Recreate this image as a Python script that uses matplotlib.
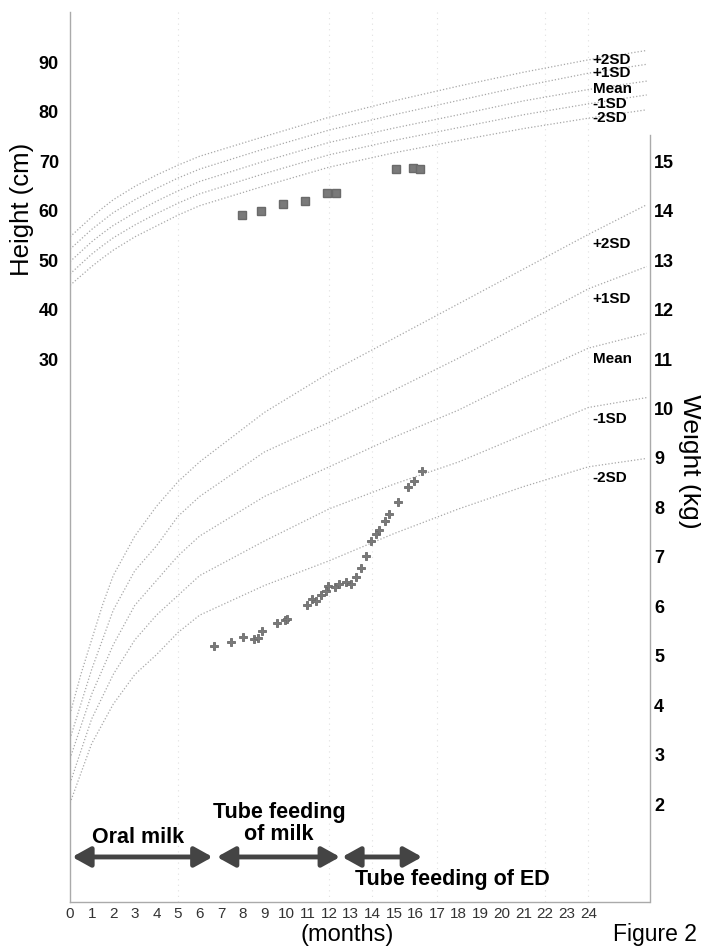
import numpy as np
import matplotlib
matplotlib.use("Agg")
import matplotlib.pyplot as plt

plt.rcParams["font.family"] = ["Liberation Sans", "DejaVu Sans"]

# reference curves (months)
ref_months = [0, 0.5, 1, 1.5, 2, 3, 4, 5, 6, 9, 12, 15, 18, 21, 24, 26.7]
sd_labels = ["+2SD", "+1SD", "Mean", "-1SD", "-2SD"]

height_p2 = [54.5, 56.5, 58.5, 60.3, 62.0, 64.7, 67.0, 69.0, 70.8, 74.8, 78.7, 82.0, 85.0, 87.8, 90.3, 92.2]
height_p1 = [52.0, 54.0, 56.0, 57.7, 59.4, 62.0, 64.3, 66.4, 68.2, 72.3, 76.1, 79.2, 82.1, 85.0, 87.6, 89.4]
height_mean = [49.5, 51.5, 53.5, 55.2, 56.8, 59.4, 61.7, 63.8, 65.7, 69.8, 73.6, 76.5, 79.2, 82.0, 84.3, 86.0]
height_m1 = [47.0, 49.0, 51.0, 52.7, 54.3, 56.9, 59.2, 61.3, 63.2, 67.3, 71.1, 74.0, 76.6, 79.2, 81.4, 83.2]
height_m2 = [44.7, 46.6, 48.5, 50.2, 51.8, 54.5, 56.7, 58.9, 60.8, 64.8, 68.6, 71.5, 74.0, 76.4, 78.5, 80.2]

weight_p2 = [3.8, 4.6, 5.3, 6.0, 6.6, 7.4, 8.0, 8.5, 8.9, 9.9, 10.7, 11.4, 12.1, 12.8, 13.5, 14.1]
weight_p1 = [3.3, 4.0, 4.7, 5.3, 5.9, 6.7, 7.2, 7.8, 8.2, 9.1, 9.7, 10.35, 11.0, 11.7, 12.4, 12.85]
weight_mean = [2.9, 3.55, 4.2, 4.7, 5.2, 6.0, 6.5, 7.0, 7.4, 8.2, 8.8, 9.4, 9.95, 10.6, 11.2, 11.5]
weight_m1 = [2.4, 3.05, 3.7, 4.15, 4.6, 5.3, 5.8, 6.2, 6.6, 7.3, 7.95, 8.45, 8.9, 9.45, 10.0, 10.2]
weight_m2 = [2.0, 2.6, 3.2, 3.6, 4.0, 4.6, 5.0, 5.45, 5.8, 6.4, 6.9, 7.45, 7.95, 8.4, 8.8, 8.97]

# patient measurements
h_months = [7.96, 8.82, 9.88, 10.9, 11.9, 12.3, 15.07, 15.87, 16.2]
h_values = [59.0, 59.8, 61.2, 61.7, 63.4, 63.4, 68.3, 68.5, 68.3]

w_months = [6.68, 7.45, 8.0, 8.5, 8.68, 8.88, 9.57, 9.95, 10.06, 10.98, 11.18,
            11.37, 11.6, 11.84, 11.95, 12.29, 12.46, 12.76, 13.03, 13.23, 13.49,
            13.7, 13.95, 14.15, 14.29, 14.58, 14.78, 15.18, 15.64, 15.94, 16.31]
w_values = [5.17, 5.26, 5.35, 5.32, 5.34, 5.47, 5.65, 5.71, 5.73, 6.01, 6.13,
            6.08, 6.21, 6.29, 6.39, 6.37, 6.42, 6.48, 6.43, 6.58, 6.76,
            7.0, 7.29, 7.44, 7.53, 7.71, 7.85, 8.09, 8.40, 8.51, 8.72]

# feeding periods
phase_start = [0.1, 6.8, 12.6]
phase_end = [6.6, 12.5, 16.3]

grid_months = [5, 12, 14, 17, 22, 24]

height_curves = [height_p2, height_p1, height_mean, height_m1, height_m2]
weight_curves = [weight_p2, weight_p1, weight_mean, weight_m1, weight_m2]

fig = plt.figure(figsize=(7.01, 9.53), dpi=100)
ax = fig.add_axes([0.0999, 0.0525, 0.8273, 0.934])
ax_w = ax.twinx()

curve_style = dict(color="#a8a8a8", lw=0.9, ls=(0, (1, 1.6)))
for m in grid_months:
    ax.axvline(m, color="#e0e0e0", lw=0.8, ls=(0, (1, 4)), zorder=0)

for curve, lab in zip(height_curves, sd_labels):
    ax.plot(ref_months, curve, **curve_style)
    ax.text(24.2, np.interp(24.2, ref_months, curve) + 0.1, lab,
            fontsize=11, fontweight="bold", ha="left", va="center")

for curve, lab in zip(weight_curves, sd_labels):
    ax_w.plot(ref_months, curve, **curve_style)
    ax_w.text(24.2, np.interp(24.2, ref_months, curve) - 0.22, lab,
              fontsize=11, fontweight="bold", ha="left", va="center")

ax.plot(h_months, h_values, "s", color="#7a7a7a", ms=6.2, mec="#6a6a6a")
ax_w.plot(w_months, w_values, "P", color="#7a7a7a", ms=6, mec="#6a6a6a", mew=0.6)

# feeding arrows
for s, e in zip(phase_start, phase_end):
    ax_w.annotate("", xy=(s, 0.91), xytext=(e, 0.91),
                  arrowprops=dict(arrowstyle="<|-|>,head_length=0.9,head_width=0.5",
                                  lw=3.5, color="#444444", shrinkA=0, shrinkB=0,
                                  mutation_scale=12))
ax_w.text(3.15, 1.32, "Oral milk", fontsize=15.5, fontweight="bold", ha="center", va="center")
ax_w.text(9.68, 1.61, "Tube feeding\nof milk", fontsize=15.5, fontweight="bold",
          ha="center", va="center", linespacing=1.1)
ax_w.text(17.7, 0.47, "Tube feeding of ED", fontsize=15.5, fontweight="bold",
          ha="center", va="center")

ax.set_xlim(0, 26.85)
ax.set_ylim(-80, 100)
ax_w.set_ylim(0, 18)

ax.set_xticks(range(0, 25))
ax.set_xticklabels([str(i) for i in range(0, 25)], fontsize=11, color="#333333")
ax.set_yticks(range(30, 100, 10))
ax.set_yticklabels([str(v) for v in range(30, 100, 10)], fontsize=13, fontweight="bold")
ax_w.set_yticks(range(2, 16))
ax_w.set_yticklabels([str(v) for v in range(2, 16)], fontsize=13, fontweight="bold")
ax.tick_params(axis="x", length=0, pad=3)
ax.tick_params(axis="y", length=0, pad=8)
ax_w.tick_params(axis="y", length=0, pad=3)

for a in (ax, ax_w):
    a.spines["top"].set_visible(False)
    for side in ("left", "right", "bottom"):
        a.spines[side].set_linestyle((0, (1, 1)))
        a.spines[side].set_color("#aaaaaa")
        a.spines[side].set_linewidth(1)
ax.spines["right"].set_visible(False)
ax_w.spines["left"].set_visible(False)
ax_w.spines["bottom"].set_visible(False)
ax_w.spines["right"].set_bounds(0, 15.5)

fig.text(0.032, 0.78, "Height (cm)", rotation=90, fontsize=18.5, ha="center", va="center")
fig.text(0.984, 0.516, "Weight (kg)", rotation=270, fontsize=19, ha="center", va="center")
fig.text(0.495, 0.019, "(months)", fontsize=17, ha="center", va="center")
fig.text(0.935, 0.019, "Figure 2", fontsize=16.5, ha="center", va="center")

fig.savefig("out.png", dpi=100)
